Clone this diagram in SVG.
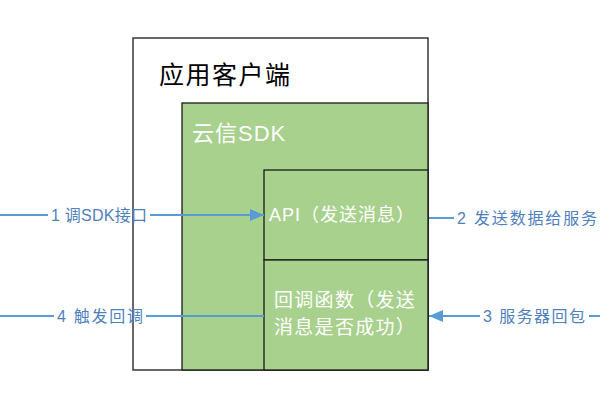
<svg xmlns="http://www.w3.org/2000/svg" width="600" height="400" viewBox="0 0 600 400">
<defs>
<style>
.box{stroke:#1a1a1a;stroke-width:1.3}
.green{fill:#A9D18E}
.t{font-family:"Liberation Sans","Noto Sans CJK SC",sans-serif}
.wt{fill:#ffffff}
.lbl{fill:#4F81BD;font-size:16px;font-family:"Liberation Sans","Noto Sans CJK SC",sans-serif}
.ln{stroke:#5B9BD5;stroke-width:2;fill:none}
</style>
<marker id="ah" markerWidth="14" markerHeight="12" refX="14" refY="6" orient="auto" markerUnits="userSpaceOnUse" viewBox="0 0 14 12">
<path d="M0,0 L14,6 L0,12 z" fill="#5B9BD5"/>
</marker>
</defs>
<g id="client">
<rect x="133" y="38" width="295" height="332" fill="#ffffff" class="box"/>
<text x="159" y="84" class="t" font-size="25" letter-spacing="1.5" fill="#000">应用客户端</text>
</g>
<g id="sdk">
<rect x="182" y="103" width="246" height="267" class="box green"/>
<text x="192" y="141" class="t wt" font-size="22" letter-spacing="1">云信SDK</text>
</g>
<g id="api">
<rect x="264" y="170" width="164" height="90" class="box green"/>
<text x="269" y="221" class="t wt" font-size="18" letter-spacing="1">API（发送消息）</text>
</g>
<g id="callback">
<rect x="264" y="260" width="164" height="110" class="box green"/>
<text x="274" y="307" class="t wt" font-size="19" letter-spacing="1.3">回调函数（发送</text>
<text x="274" y="334" class="t wt" font-size="19" letter-spacing="1.3">消息是否成功）</text>
</g>
<g id="connectors">
<line class="ln" x1="0" y1="215" x2="48" y2="215"/>
<line class="ln" x1="150" y1="215" x2="264" y2="215" marker-end="url(#ah)"/>
<text class="lbl" x="51" y="221" textLength="96" lengthAdjust="spacing">1 调SDK接口</text>
<line class="ln" x1="429" y1="218" x2="454" y2="218"/>
<text class="lbl" x="457" y="224" textLength="140" lengthAdjust="spacing">2 发送数据给服务</text>
<line class="ln" x1="600" y1="316" x2="589" y2="316"/>
<line class="ln" x1="480" y1="316" x2="429" y2="316" marker-end="url(#ah)"/>
<text class="lbl" x="483" y="322" textLength="102" lengthAdjust="spacing">3 服务器回包</text>
<line class="ln" x1="0" y1="316" x2="54" y2="316"/>
<line class="ln" x1="146" y1="316" x2="264" y2="316"/>
<text class="lbl" x="57" y="322" textLength="86" lengthAdjust="spacing">4 触发回调</text>
</g>
</svg>
